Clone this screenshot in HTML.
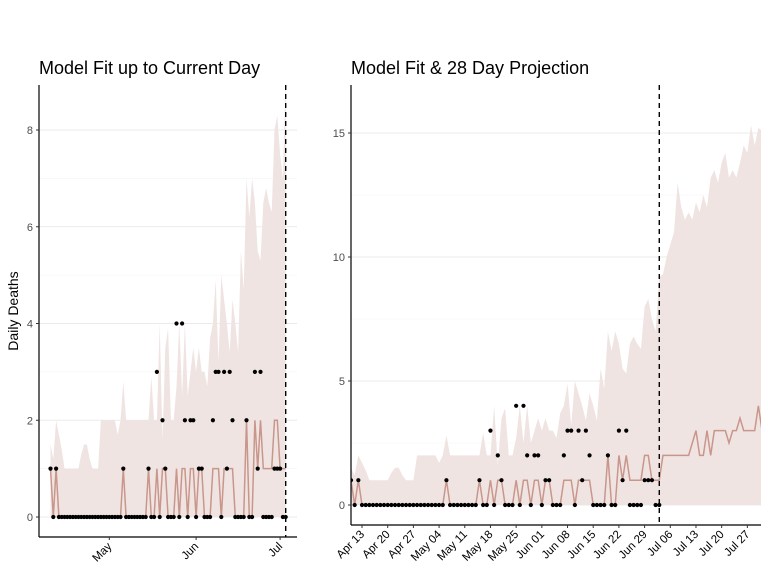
<!DOCTYPE html>
<html><head><meta charset="utf-8"><style>
body{margin:0;background:#fff;}
svg text{font-family:"Liberation Sans",sans-serif;}
</style></head><body>
<svg id="chart" width="768" height="576" xmlns="http://www.w3.org/2000/svg">
<rect width="768" height="576" fill="#fff"/>
<text x="39" y="74" font-size="18" fill="#000">Model Fit up to Current Day</text>
<text x="351" y="74" font-size="18" fill="#000">Model Fit &amp; 28 Day Projection</text>
<text transform="translate(18,311) rotate(-90)" text-anchor="middle" font-size="14" fill="#000">Daily Deaths</text>
<g id="left"></g>
<g id="right"></g>
</svg>
<script>
const observed=[1,0,1,0,0,0,0,0,0,0,0,0,0,0,0,0,0,0,0,0,0,0,0,0,0,0,1,0,0,0,0,0,0,0,0,1,0,0,3,0,2,1,0,0,0,4,0,4,2,0,2,2,0,1,1,0,0,0,2,3,3,0,3,1,3,2,0,0,0,0,2,0,0,3,1,3,0,0,0,0,1,1,1,0,0];
const fitMedian=[1,0,1,0,0,0,0,0,0,0,0,0,0,0,0,0,0,0,0,0,0,0,0,0,0,0,1,0,0,0,0,0,0,0,0,1,0,0,1,0,1,1,0,0,0,1,0,1,1,0,1,1,0,1,1,0,0,0,1,1,1,0,1,1,1,1,0,0,0,0,2,0,0,2,1,2,1,1,1,1,2,2,1,1,1];
const fitUpper=[1.5,1.2,2,1.7,1.4,1,1,1,1,1,1,1.3,1.5,1.5,1.2,1,1,1,2,2,2,2,2,2,1.7,2,2.8,2,2,2,2,2,2,2,2,2,2.9,2,2,4,1.6,3.5,3.9,2,2,2.7,4,2.5,4,2.5,3,3.5,3,3.5,3,3,2.7,3.7,4,4.9,3.2,5,4.5,4,3.4,4.5,4,3.4,5.5,4.7,7,6.2,7,6.5,5.5,5.3,6.5,6.8,6.5,6.3,8,8.3,7.5,7,9.2];
const projMedian=[2,2,2,2,2,2,2,2,2.5,3,2,2,3,2,3,3,3,3,2.5,3,3,3.5,3,3,3,3,4,3];
const projUpper=[9.3,10,10.5,11,13,12,11.5,11.8,11.5,12.2,11.8,12.5,12,13.2,13.5,13,13.8,14.2,13.2,13.5,13.2,13.8,14.5,14.2,15.3,14.5,15.2,15.1];
const leftTickLabels=["May","Jun","Jul"];
const leftTickDays=[21,52,82];
const leftYTicks=[0,2,4,6,8];
const rightTickLabels=["Apr 13","Apr 20","Apr 27","May 04","May 11","May 18","May 25","Jun 01","Jun 08","Jun 15","Jun 22","Jun 29","Jul 06","Jul 13","Jul 20","Jul 27"];
const rightTickDays=[3,10,17,24,31,38,45,52,59,66,73,80,87,94,101,108];
const rightYTicks=[0,5,10,15];

const NS="http://www.w3.org/2000/svg";
function mk(parent,tag,attrs){const e=document.createElementNS(NS,tag);for(const k in attrs)e.setAttribute(k,attrs[k]);parent.appendChild(e);return e;}

function panel(g,cfg){
  const {x,y,left,right,top,bottom,yTicks,minor,tickDays,tickLabels,withProj}=cfg;
  minor.forEach(v=>{const l=mk(g,'line',{x1:left,x2:right,y1:y(v),y2:y(v),stroke:'#f2f2f2','stroke-width':0.6});
    
    });
  yTicks.forEach(v=>{const l=mk(g,'line',{x1:left,x2:right,y1:y(v),y2:y(v),stroke:'#ebebeb','stroke-width':1.1});
    
    });
  const cid='clip'+left;
  const cp=mk(g,'clipPath',{id:cid});mk(cp,'rect',{x:left,y:top,width:right-left,height:bottom-top});
  const cg=mk(g,'g',{'clip-path':'url(#'+cid+')'});
  let up=fitUpper.slice(), med=fitMedian.slice();
  if(withProj){up=up.concat(projUpper);med=med.concat(projMedian);}
  let d='M'+x(0)+','+y(0);
  up.forEach((v,i)=>{d+=' L'+x(i)+','+y(v);});
  d+=' L'+x(up.length-1)+','+y(0)+' Z';
  const rib=mk(cg,'path',{d:d,fill:'#efe4e2'});
  
  
  const ln=mk(cg,'polyline',{points:med.map((v,i)=>x(i)+','+y(v)).join(' '),fill:'none',stroke:'#c9968b','stroke-width':1.5});
  
  
  observed.forEach((v,i)=>{const c=mk(cg,'circle',{cx:x(i),cy:y(v),r:2.1,fill:'#000'});
    
    });
  const last=observed.length-1;
  const dl=mk(g,'line',{x1:x(last),x2:x(last),y1:top,y2:bottom,stroke:'#000','stroke-width':1.4,'stroke-dasharray':'5,4'});
  
  
  const ya=mk(g,'line',{x1:left,x2:left,y1:top,y2:bottom,stroke:'#000','stroke-width':1.2});
  
  
  const xa=mk(g,'line',{x1:left,x2:right,y1:bottom,y2:bottom,stroke:'#000','stroke-width':1.2});
  
  
  yTicks.forEach(v=>{mk(g,'line',{x1:left-3,x2:left,y1:y(v),y2:y(v),stroke:'#333'});
    const t=mk(g,'text',{x:left-6,y:y(v)+4,'text-anchor':'end','font-size':11,fill:'#4d4d4d'});t.textContent=v;
    
    });
  tickDays.forEach((dd,k)=>{const xx=x(dd);mk(g,'line',{x1:xx,x2:xx,y1:bottom,y2:bottom+3,stroke:'#333'});
    const t=mk(g,'text',{transform:'translate('+(xx+3)+','+(bottom+10)+') rotate(-45)','text-anchor':'end','font-size':11.5,fill:'#000'});t.textContent=tickLabels[k];
    
    });
}
panel(document.getElementById('left'),{
  x:i=>50.5+i*2.8, y:v=>517-v*48.375, left:39,right:297,top:85,bottom:537,
  yTicks:leftYTicks, minor:[1,3,5,7], tickDays:leftTickDays, tickLabels:leftTickLabels, withProj:false});
panel(document.getElementById('right'),{
  x:i=>351+i*3.67, y:v=>505-v*24.8, left:351,right:761,top:85,bottom:525,
  yTicks:rightYTicks, minor:[2.5,7.5,12.5], tickDays:rightTickDays, tickLabels:rightTickLabels, withProj:true});
</script>
</body></html>
